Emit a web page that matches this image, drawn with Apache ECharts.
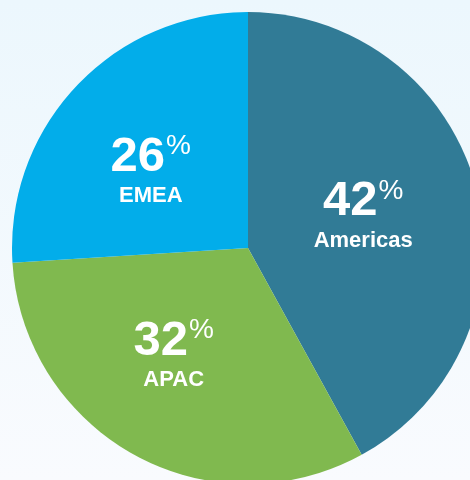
<!DOCTYPE html>
<html>
<head>
<meta charset="utf-8">
<script src="https://cdn.jsdelivr.net/npm/echarts@6/dist/echarts.min.js"></script>
<style>
  html, body { margin: 0; padding: 0; }
  body { background: linear-gradient(180deg, #ecf7fd 0%, #f9fbfe 100%); }
  #chart { width: 470px; height: 480px; }
</style>
</head>
<body>
<div id="chart"></div>
<script>
// regions clockwise from 12 o'clock
const regions = ['Americas', 'APAC', 'EMEA']
const shares = [42, 32, 26]
const colors = ['#317b96', '#80b94f', '#02adea']
// small nudges so the labels sit where the original has them
const labelNudge = [[-2, -2], [-16, 1], [-9, 6]]

const chart = echarts.init(document.getElementById('chart'))

chart.setOption({
  backgroundColor: 'transparent',
  animation: false,
  series: [{
    type: 'pie',
    center: [248, 248],
    radius: 236,
    startAngle: 90,
    clockwise: true,
    silent: true,
    data: regions.map((name, i) => ({
      name: name,
      value: shares[i],
      itemStyle: { color: colors[i] },
      label: { offset: labelNudge[i] }
    })),
    label: {
      show: true,
      position: 'inside',
      color: '#fff',
      fontFamily: 'Liberation Sans, Arial, sans-serif',
      formatter: p => '{v|' + p.value + '}{p|%}\n{n|' + p.name + '}',
      rich: {
        v: { fontSize: 49, fontWeight: 'bold', color: '#fff', lineHeight: 50, fontFamily: 'Liberation Sans' },
        p: { fontSize: 28, color: '#fff', verticalAlign: 'top', lineHeight: 50, padding: [0, 0, 0, 1], fontFamily: 'Liberation Sans' },
        n: { fontSize: 22, fontWeight: 'bold', color: '#fff', lineHeight: 28, fontFamily: 'Liberation Sans' }
      }
    },
    labelLine: { show: false }
  }]
})
</script>
</body>
</html>
